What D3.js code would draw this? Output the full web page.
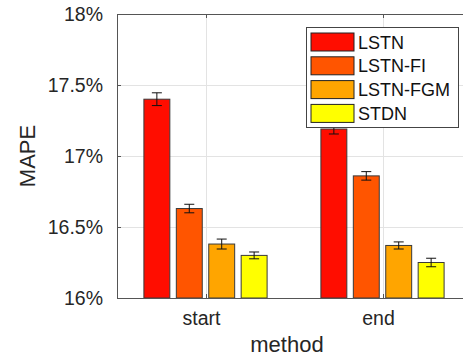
<!DOCTYPE html>
<html>
<head>
<meta charset="utf-8">
<script src="https://cdn.jsdelivr.net/npm/d3@7"></script>
<style>
  body { margin: 0; background: #fff; }
  #container { width: 463px; height: 360px; }
  text { font-family: "Liberation Sans", Arial, sans-serif; fill: #262626; }
</style>
</head>
<body>
<div id="container"></div>
<script>
// data
const categories = ["start", "end"];
const seriesNames = ["LSTN", "LSTN-FI", "LSTN-FGM", "STDN"];
const seriesColors = ["#ff0d00", "#ff5500", "#ffa500", "#ffff00"];
const meanValues = [
  [17.40, 16.63, 16.38, 16.30],   // start
  [17.19, 16.86, 16.37, 16.25]    // end
];
const errValues = [
  [0.045, 0.03, 0.035, 0.024],
  [0.035, 0.03, 0.025, 0.03]
];
const yTicks = [16, 16.5, 17, 17.5, 18];
const yTickLabels = ["16%", "16.5%", "17%", "17.5%", "18%"];

const width = 463, height = 360;
const mLeft = 117, mRight = 471, mTop = 14, mBottom = 298;

const svg = d3.select("#container").append("svg")
  .attr("width", width)
  .attr("height", height);

const x = d3.scaleLinear().domain([0.5, 2.5]).range([mLeft, mRight]);
const xInner = d3.scaleBand().domain(seriesNames).range([-61.6, 61.6]).paddingInner(0.2);
const y = d3.scaleLinear().domain([16, 18]).range([mBottom, mTop]);

// gridlines
const grid = svg.append("g").attr("stroke", "#e3e3e3").attr("stroke-width", 1);
grid.selectAll("line.h")
  .data(yTicks.slice(1, -1))
  .join("line")
  .attr("class", "h")
  .attr("x1", mLeft).attr("x2", mRight)
  .attr("y1", d => Math.round(y(d)) + 0.5).attr("y2", d => Math.round(y(d)) + 0.5);
grid.selectAll("line.v")
  .data(categories)
  .join("line")
  .attr("class", "v")
  .attr("x1", (d, i) => Math.round(x(i + 1)) + 0.5).attr("x2", (d, i) => Math.round(x(i + 1)) + 0.5)
  .attr("y1", mTop).attr("y2", mBottom);

// bars
const groups = svg.append("g").selectAll("g")
  .data(categories)
  .join("g")
  .attr("transform", (d, i) => `translate(${x(i + 1)},0)`);

groups.selectAll("rect")
  .data((d, i) => meanValues[i].map((v, j) => ({name: seriesNames[j], value: v, err: errValues[i][j], color: seriesColors[j]})))
  .join("rect")
  .attr("x", d => xInner(d.name))
  .attr("width", xInner.bandwidth())
  .attr("y", d => y(d.value))
  .attr("height", d => y(16) - y(d.value))
  .attr("fill", d => d.color)
  .attr("stroke", "#3a3a3a")
  .attr("stroke-width", 1);

// error bars
const eb = groups.selectAll("g.err")
  .data((d, i) => meanValues[i].map((v, j) => ({name: seriesNames[j], value: v, err: errValues[i][j]})))
  .join("g")
  .attr("class", "err")
  .attr("stroke", "#111")
  .attr("stroke-width", 1);
const cx = d => xInner(d.name) + xInner.bandwidth() / 2;
eb.append("line")
  .attr("x1", cx).attr("x2", cx)
  .attr("y1", d => y(d.value + d.err)).attr("y2", d => y(d.value - d.err));
eb.append("line")
  .attr("x1", d => cx(d) - 5).attr("x2", d => cx(d) + 5)
  .attr("y1", d => y(d.value + d.err)).attr("y2", d => y(d.value + d.err));
eb.append("line")
  .attr("x1", d => cx(d) - 5).attr("x2", d => cx(d) + 5)
  .attr("y1", d => y(d.value - d.err)).attr("y2", d => y(d.value - d.err));

// axes box
const axisColor = "#555";
svg.append("rect")
  .attr("x", mLeft + 0.5).attr("y", mTop + 0.5)
  .attr("width", mRight - mLeft).attr("height", mBottom - mTop)
  .attr("fill", "none").attr("stroke", axisColor).attr("stroke-width", 1);

// y ticks (inward)
svg.append("g").selectAll("line")
  .data(yTicks)
  .join("line")
  .attr("x1", mLeft).attr("x2", mLeft + 4)
  .attr("y1", d => Math.round(y(d)) + 0.5).attr("y2", d => Math.round(y(d)) + 0.5)
  .attr("stroke", axisColor);

// x ticks (inward, top and bottom)
const xt = svg.append("g").attr("stroke", axisColor);
categories.forEach((c, i) => {
  const px = Math.round(x(i + 1)) + 0.5;
  xt.append("line").attr("x1", px).attr("x2", px).attr("y1", mTop).attr("y2", mTop + 4);
  xt.append("line").attr("x1", px).attr("x2", px).attr("y1", mBottom).attr("y2", mBottom - 4);
});

// y tick labels
svg.append("g").selectAll("text")
  .data(yTicks)
  .join("text")
  .attr("x", 103)
  .attr("y", d => y(d))
  .attr("dy", "0.36em")
  .attr("text-anchor", "end")
  .style("font-size", "19.5px")
  .text((d, i) => yTickLabels[i]);

// x tick labels
svg.append("g").selectAll("text")
  .data(categories)
  .join("text")
  .attr("x", (d, i) => x(i + 1) - 4)
  .attr("y", 325)
  .attr("text-anchor", "middle")
  .style("font-size", "19.5px")
  .text(d => d);

// axis titles
svg.append("text")
  .attr("x", 287)
  .attr("y", 352)
  .attr("text-anchor", "middle")
  .style("font-size", "22px")
  .text("method");

svg.append("text")
  .attr("transform", "translate(35,156) rotate(-90)")
  .attr("text-anchor", "middle")
  .style("font-size", "22px")
  .text("MAPE");

// legend
const legend = svg.append("g");
legend.append("rect")
  .attr("x", 306.5).attr("y", 27.5)
  .attr("width", 152).attr("height", 100)
  .attr("fill", "#fff")
  .attr("stroke", "#444")
  .attr("stroke-width", 1);

const item = legend.selectAll("g.item")
  .data(seriesNames)
  .join("g")
  .attr("class", "item")
  .attr("transform", (d, i) => `translate(0,${33 + i * 23.8})`);
item.append("rect")
  .attr("x", 311).attr("y", 0)
  .attr("width", 43).attr("height", 18)
  .attr("fill", (d, i) => seriesColors[i])
  .attr("stroke", "#222")
  .attr("stroke-width", 1);
item.append("text")
  .attr("x", 358)
  .attr("y", 15.5)
  .style("font-size", "18px")
  .style("fill", "#111")
  .text(d => d);
</script>
</body>
</html>
